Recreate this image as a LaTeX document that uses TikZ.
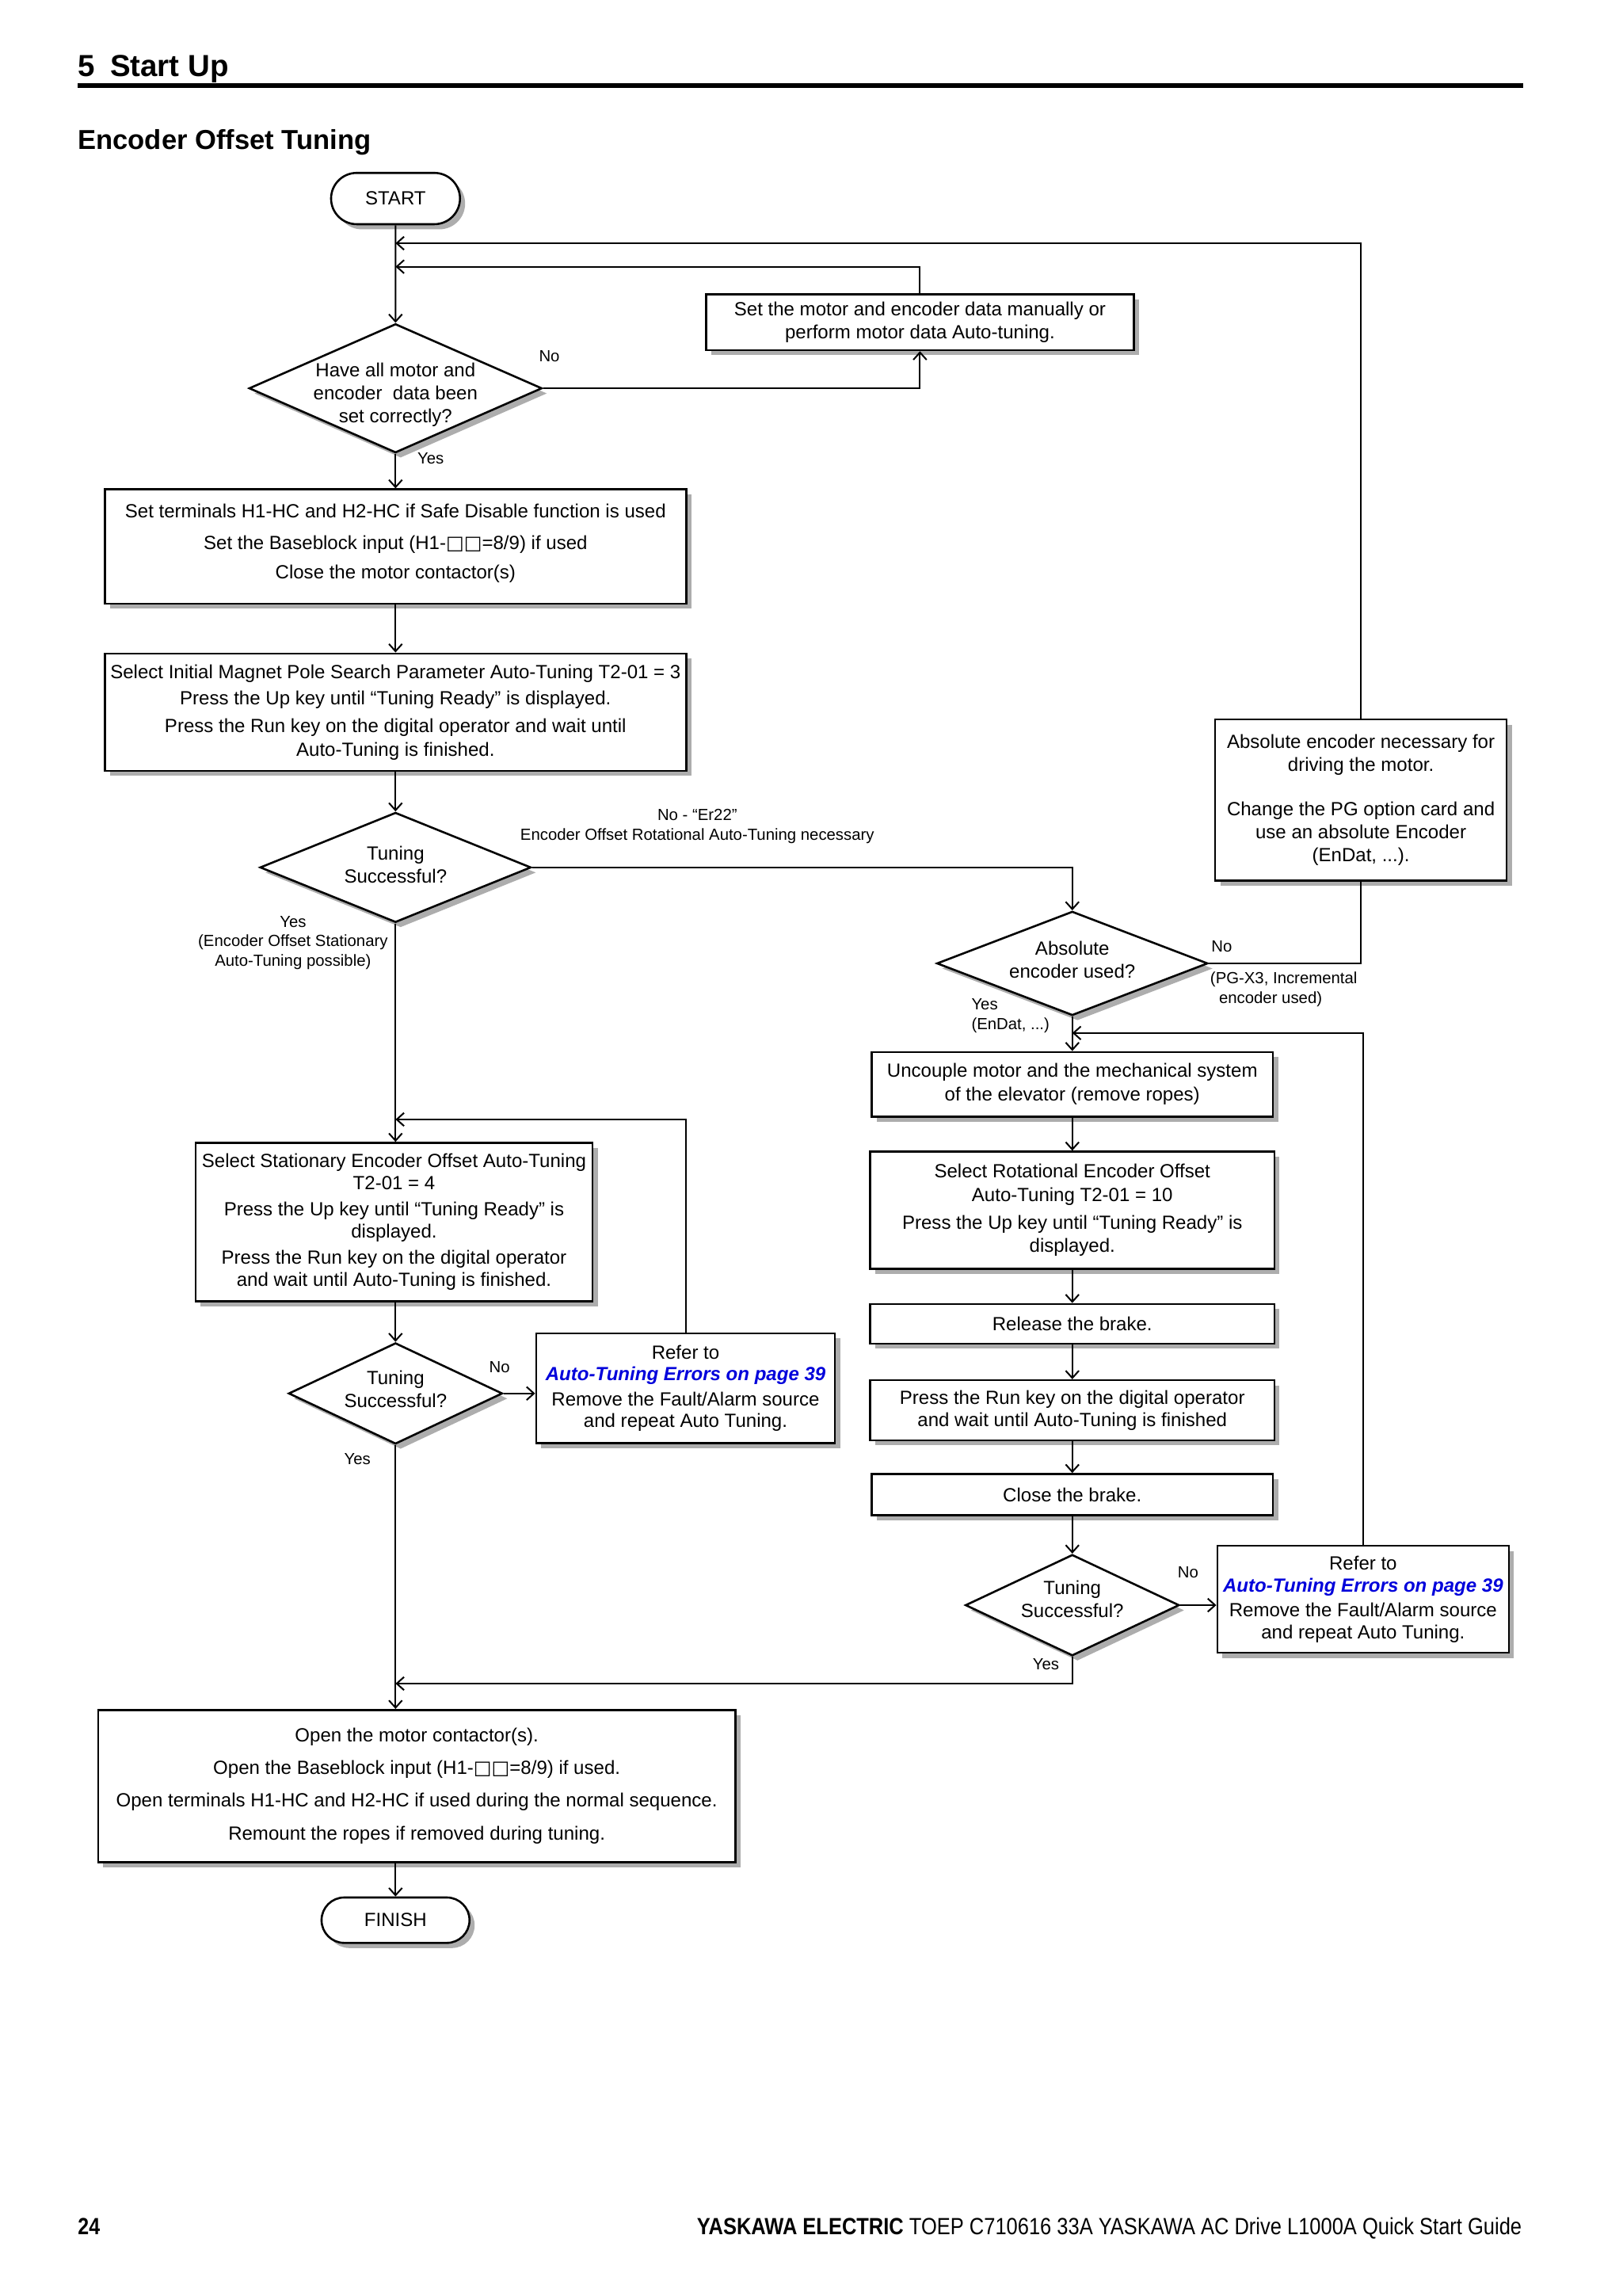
\documentclass[tikz,border=0pt]{standalone}
\usepackage{fontspec}
\setmainfont{Liberation Sans}
\newfontfamily\symfont{DejaVu Sans}
\usepackage{graphicx}
\usetikzlibrary{shapes.geometric,shapes.misc,shadows,arrows.meta}
\definecolor{LinkClr}{rgb}{0,0,0.86}
\definecolor{ShadowClr}{rgb}{0.68,0.68,0.68}
\newcommand{\sqpair}{{\symfont □□}}

\tikzset{
  box/.style={draw,line width=1.4pt,fill=white,align=center,inner sep=0pt,
    drop shadow={shadow xshift=3.5pt,shadow yshift=-3.5pt,fill=ShadowClr,opacity=1},
    font=\fontsize{13}{15}\selectfont},
  terminal/.style={box,rounded rectangle},
  decision/.style={box,diamond},
  qtext/.style={align=center,inner sep=0pt,font=\fontsize{13}{15.5}\selectfont},
  lbl/.style={align=center,inner sep=0pt,font=\fontsize{11}{13.5}\selectfont},
  conn/.style={line width=1.1pt,-{Straight Barb[length=5pt,width=9pt]}},
  joinline/.style={line width=1.1pt},
}

\begin{document}
\begin{tikzpicture}[x=1pt,y=-1pt]
\fill[white] (0,0) rectangle (1107.5,1567);
\useasboundingbox (0,0) rectangle (1107.5,1567);

\node[anchor=base west,inner sep=0pt,font=\bfseries\fontsize{20.8}{24}\selectfont] (chap) at (53,52) {5\hspace{0.5em}Start Up};
\draw[line width=3.5pt] (53,58.3) -- (1040,58.3);
\node[anchor=west,inner sep=0pt,font=\bfseries\fontsize{18.7}{22}\selectfont] (title) at (53,97) {Encoder Offset Tuning};

\node[terminal,minimum width=88pt,minimum height=35pt] (start) at (270,135.5) {START};

\node[decision,minimum width=200pt,minimum height=88pt,
  label={[qtext,yshift=-4.5pt]center:{Have all motor and\\encoder~ data been\\set correctly?}}] (q1) at (270,265) {};
\node[box,minimum width=292pt,minimum height=38pt,font=\fontsize{13}{16}\selectfont] (setm) at (628,220)
  {Set the motor and encoder data manually or\\perform motor data Auto-tuning.};

\node[box,minimum width=397pt,minimum height=78pt] (setup) at (270,373)
  {Set terminals H1-HC and H2-HC if Safe Disable function is used\\[7pt]
   Set the Baseblock input (H1-\sqpair=8/9) if used\\[5pt]
   Close the motor contactor(s)\rule[-7pt]{0pt}{0pt}};

\node[box,minimum width=397pt,minimum height=80pt] (magnet) at (270,486)
  {Select Initial Magnet Pole Search Parameter Auto-Tuning T2-01 = 3\\[3pt]
   Press the Up key until “Tuning Ready” is displayed.\\[4pt]
   Press the Run key on the digital operator and wait until\\[1pt]
   Auto-Tuning is finished.};

\node[decision,minimum width=185pt,minimum height=75pt,
  label={[qtext,yshift=2pt]center:{Tuning\\Successful?}}] (q2) at (270,592) {};

\node[box,minimum width=271pt,minimum height=108pt] (stat) at (269,834)
  {Select Stationary Encoder Offset Auto-Tuning\\T2-01 = 4\\[3pt]
   Press the Up key until “Tuning Ready” is\\displayed.\\[3pt]
   Press the Run key on the digital operator\\and wait until Auto-Tuning is finished.};

\node[decision,minimum width=146pt,minimum height=69pt,
  label={[qtext,yshift=3pt]center:{Tuning\\Successful?}}] (q4) at (270,951) {};
\node[box,minimum width=204pt,minimum height=75pt] (ref1) at (468,947.5)
  {Refer to\\{\color{LinkClr}\bfseries\itshape Auto-Tuning Errors on page 39}\\[2pt]
   Remove the Fault/Alarm source\\and repeat Auto Tuning.};

\node[box,minimum width=199pt,minimum height=110pt,font=\fontsize{13}{15.5}\selectfont] (abs) at (929,546)
  {Absolute encoder necessary for\\driving the motor.\\[15pt]
   Change the PG option card and\\use an absolute Encoder\\(EnDat, ...).};

\node[decision,minimum width=185pt,minimum height=71pt,
  label={[qtext,yshift=2.5pt]center:{Absolute\\encoder used?}}] (q3) at (732,657.5) {};

\node[box,minimum width=274pt,minimum height=44pt,font=\fontsize{13}{16}\selectfont] (unc) at (732,740)
  {Uncouple motor and the mechanical system\\of the elevator (remove ropes)};
\node[box,minimum width=276pt,minimum height=80pt,font=\fontsize{13}{16}\selectfont] (rot) at (732,826)
  {Select Rotational Encoder Offset\\Auto-Tuning T2-01 = 10\\[3pt]
   Press the Up key until “Tuning Ready” is\\displayed.};
\node[box,minimum width=276pt,minimum height=27pt] (rel) at (732,903.5) {Release the brake.};
\node[box,minimum width=276pt,minimum height=41pt] (run) at (732,962.5)
  {Press the Run key on the digital operator\\and wait until Auto-Tuning is finished};
\node[box,minimum width=274pt,minimum height=28pt] (close) at (732,1020) {Close the brake.};

\node[decision,minimum width=146pt,minimum height=69pt,
  label={[qtext,yshift=4pt]center:{Tuning\\Successful?}}] (q5) at (732,1095.5) {};
\node[box,minimum width=199pt,minimum height=73pt] (ref2) at (930.5,1091.5)
  {Refer to\\{\color{LinkClr}\bfseries\itshape Auto-Tuning Errors on page 39}\\[2pt]
   Remove the Fault/Alarm source\\and repeat Auto Tuning.};

\node[box,minimum width=435pt,minimum height=104pt] (open) at (284.5,1219)
  {Open the motor contactor(s).\\[7pt]
   Open the Baseblock input (H1-\sqpair=8/9) if used.\\[7pt]
   Open terminals H1-HC and H2-HC if used during the normal sequence.\\[8pt]
   Remount the ropes if removed during tuning.};
\node[terminal,minimum width=101pt,minimum height=31pt] (finish) at (270,1310.5) {FINISH};

\coordinate (j1) at (270,166);
\coordinate (j2) at (270,182);
\coordinate (j4) at (270,764);
\coordinate (j5) at (270,1149);
\coordinate (j6) at (732,705);

\draw[conn] (start) -- (q1);
\draw[conn] (abs.north) |- (j1);
\draw[conn] (setm.north) |- (j2);
\draw[conn] (q1.east) -| (setm.south);
\draw[conn] (q1) -- (setup);
\draw[conn] (setup) -- (magnet);
\draw[conn] (magnet) -- (q2);
\draw[conn] (q2.east) -| (q3.north);
\draw[joinline] (q3.east) -| (abs.south);
\draw[conn] (q2.south) -- (q2.south |- stat.north);
\draw[conn] (ref1.north) |- (j4);
\draw[conn] (stat.south -| q4.north) -- (q4.north);
\draw[conn] (q4.east) -- (q4.east -| ref1.west);
\draw[conn] (q4.south) -- (q4.south |- open.north);

\draw[conn] (q3) -- (unc);
\draw[conn] (ref2.north) |- (j6);
\draw[conn] (unc) -- (rot);
\draw[conn] (rot) -- (rel);
\draw[conn] (rel) -- (run);
\draw[conn] (run) -- (close);
\draw[conn] (close) -- (q5);
\draw[conn] (q5.east) -- (q5.east -| ref2.west);
\draw[conn] (q5.south) |- (j5);
\draw[conn] (finish.north |- open.south) -- (finish.north);

\node[lbl] (q1no) at (375,243) {No};
\node[lbl] (q1yes) at (294,313) {Yes};
\node[lbl] (q2no) at (476,564) {No - “Er22”\\Encoder Offset Rotational Auto-Tuning necessary};
\node[lbl] (q2yes) at (200,643.5) {Yes\\(Encoder Offset Stationary\\Auto-Tuning possible)};
\node[lbl] (q3no) at (834,646) {No};
\node[lbl,align=left,anchor=west] (q3inc) at (826,675) {(PG-X3, Incremental\\\hspace*{6pt}encoder used)};
\node[lbl,align=left,anchor=west] (q3yes) at (663,693) {Yes\\(EnDat, ...)};
\node[lbl] (q4no) at (341,933) {No};
\node[lbl] (q4yes) at (244,996) {Yes};
\node[lbl] (q5no) at (811,1073) {No};
\node[lbl] (q5yes) at (714,1136) {Yes};

\node[anchor=base west,inner sep=0pt,font=\bfseries\fontsize{16}{19}\selectfont] (pgnum) at (53,1525) {\resizebox{15pt}{\height}{24}};
\node[anchor=base east,inner sep=0pt,font=\fontsize{16}{19}\selectfont] (foot) at (1039,1525)
  {\resizebox{563pt}{\height}{\textbf{YASKAWA ELECTRIC} TOEP C710616 33A YASKAWA AC Drive L1000A Quick Start Guide}};

\end{tikzpicture}
\end{document}
